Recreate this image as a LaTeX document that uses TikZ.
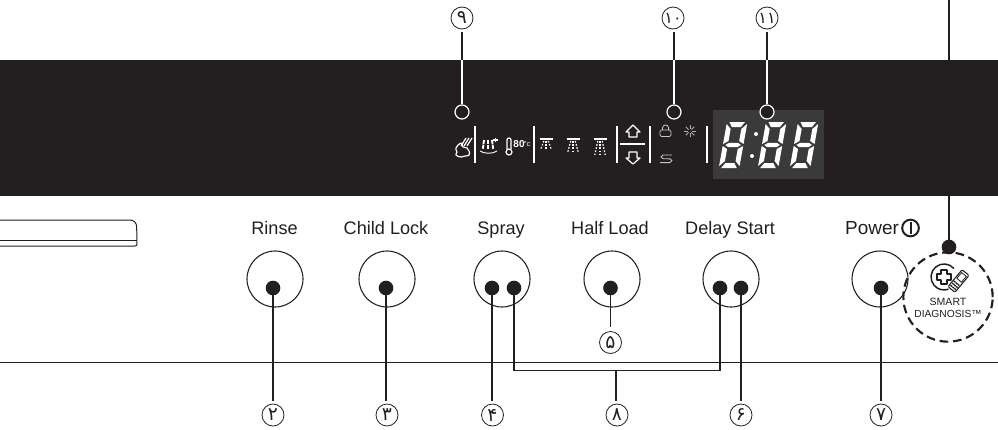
\documentclass[tikz,border=0pt]{standalone}
\usetikzlibrary{calc}
\usepackage{fontspec}
\setmainfont{Liberation Sans}
\newfontfamily\numfont[Script=Arabic]{DejaVu Sans}
\definecolor{ink}{HTML}{231F20}
\definecolor{lcd}{HTML}{3A3A3A}
\tikzset{
 btn/.style={circle,draw=ink,line width=0.8pt,minimum size=42pt,inner sep=0pt},
 btndot/.style={circle,fill=ink,minimum size=11pt,inner sep=0pt},
 opendot/.style={circle,draw=white,line width=0.9pt,fill=ink,minimum size=10.5pt,inner sep=0pt},
 callout/.style={circle,draw=ink,line width=0.6pt,minimum size=16.5pt,inner sep=0pt,font=\numfont\fontsize{14}{14}\selectfont,text=ink},
 calloutb/.style={callout,font=\numfont\fontsize{12}{12}\selectfont},
 lbl/.style={font=\fontsize{13.6}{15}\selectfont,text=ink,inner sep=0pt,anchor=base},
 wire/.style={draw=ink,line width=1.1pt},
 wwire/.style={draw=white,line width=1.1pt},
 sep/.style={draw=white,line width=0.8pt},
 seg/.style={fill=white,draw=none},
 ico/.style={draw=white,line width=0.7pt,line join=round},
}
\newcommand{\digitat}[2]{%
 \begin{scope}[shift={(#1,#2)},xslant=0.18,xscale=0.82]
  \fill[seg] (3,0)--(22,0)--(18,5)--(7,5)--cycle;
  \fill[seg] (0,2)--(6,7)--(6,19)--(0,22)--cycle;
  \fill[seg] (25,2)--(19,7)--(19,19)--(25,22)--cycle;
  \fill[seg] (3,23)--(7,20.8)--(18,20.8)--(22,23)--(18,25.2)--(7,25.2)--cycle;
  \fill[seg] (0,24)--(6,27)--(6,39)--(0,44)--cycle;
  \fill[seg] (25,24)--(19,27)--(19,39)--(25,44)--cycle;
  \fill[seg] (3,46)--(22,46)--(18,41)--(7,41)--cycle;
 \end{scope}}
\newcommand{\sprayat}[3]{%
 \draw[white,line width=1.3pt] (#1-#2,139)--(#1+#2,139);
 \foreach \k in {-1,0,1}{
  \draw[white,line width=0.9pt,dash pattern=on 1.2pt off 1.2pt] (#1+\k*#2*0.35,141)--(#1+\k*#2*0.8,141+#3);}
}
\begin{document}
\begin{tikzpicture}[x=0.75pt,y=-0.75pt]
\useasboundingbox (0,0) rectangle (998,429);
\clip (0,0) rectangle (998,429);
\fill[white] (0,0) rectangle (998,429);
% panel
\fill[ink] (0,60) rectangle (998,196);
\fill[lcd] (713,110) rectangle (824,179);
% display digits
\digitat{727}{122}
\digitat{766}{122}
\digitat{798}{122}
\fill[white] (756,134) circle (2);
\fill[white] (752,156) circle (2);
% separators
\foreach \sx in {475,534,617,650,707}{\draw[sep] (\sx,126)--(\sx,163);}
\draw[sep] (620,144)--(645,144);
% steam icon
\draw[ico,line width=0.9pt] plot[smooth cycle,tension=0.9] coordinates {(461,143)(456,148)(457,152)(456,155)(461,157)(465,156)(469,155)(469,151)(467,148)(463,147)};
\foreach \o in {0,3,6}{\draw[white,line width=0.9pt] (461+\o,146)--(466+\o,138);}
% dish icon
\foreach \o in {-4,0,4}{\draw[white,line width=1.4pt,dash pattern=on 3pt off 0.6pt] (488+\o,140)--(488+\o*1.3,149);}
\draw[white,line width=0.7pt] (480,151) .. controls (484,154) and (493,154) .. (497,151);
\draw[white,line width=0.8pt] (493,140)--(498,140) (495.5,138)--(495.5,142);
% thermometer icon
\draw[ico,line width=0.9pt] (507,149)--(507,140) arc[start angle=180,end angle=0,radius=1.5pt]--(511,149);
\draw[ico,line width=0.9pt,fill=ink] (509,152) circle (3);
\node[inner sep=0pt,text=white,font=\bfseries\fontsize{7.5}{7.5}\selectfont] (t80) at (519,144) {80};
\node[inner sep=0pt,text=white,font=\fontsize{5.5}{5.5}\selectfont] (tc) at (527,144) {°c};
% spray icons
\sprayat{546}{6.5}{8}
\sprayat{573}{6.5}{11}
\sprayat{600}{6.5}{14}
% arrows
\draw[ico,line width=0.9pt] (633,125)--(640,132)--(637,132)--(637,137)--(629,137)--(629,132)--(626,132)--cycle;
\draw[ico,line width=0.9pt] (633,164)--(640,158)--(637,158)--(637,152)--(629,152)--(629,158)--(626,158)--cycle;
% lock, sun, loop
\draw[draw=white!75!ink,line width=0.6pt,rounded corners=1pt] (660,130) rectangle (671,136.5);
\draw[draw=white!75!ink,line width=0.6pt] (662.5,130)--(662.5,128) arc[start angle=180,end angle=0,radius=2.3pt]--(668.6,130);
\foreach \a in {0,45,...,315}{\draw[white!65!ink,line width=0.6pt] ($(690,131)+(\a:2)$)--($(690,131)+(\a:6)$);}
\draw[draw=white!75!ink,line width=0.7pt] (672,155)--(663,155) arc[start angle=90,end angle=270,radius=1.4pt]--(670,158.8) arc[start angle=90,end angle=-90,radius=1.4pt]--(660,162.6);
% left tray
\draw[ink,line width=0.75pt] (-5,220)--(130,220) arc[start angle=90,end angle=0,radius=5pt]--(137,244) arc[start angle=0,end angle=-90,radius=1.5pt]--(-5,246);
\draw[ink,line width=0.75pt] (-5,240)--(137,240);
% horizontal base line
\draw[ink,line width=0.75pt] (0,362)--(998,362);
% labels
\node[lbl] (lRinse) at (274.5,234) {Rinse};
\node[lbl] (lChild) at (386,234) {Child Lock};
\node[lbl] (lSpray) at (501,234) {Spray};
\node[lbl] (lHalf) at (610,234) {Half Load};
\node[lbl] (lDelay) at (730,234) {Delay Start};
\node[lbl,font=\fontsize{14.2}{15}\selectfont] (lPower) at (872,234) {Power};
\node[circle,draw=ink,line width=1.5pt,minimum size=12.5pt,inner sep=0pt] (pwr) at (910.5,228) {};
\draw[ink,line width=1.5pt] (pwr.center)+(0,-6) -- +(0,6);
% buttons
\node[btn] (bRinse) at (275,279) {};
\node[btn] (bChild) at (387,279) {};
\node[btn] (bSpray) at (502,279) {};
\node[btn] (bHalf) at (612,279) {};
\node[btn] (bDelay) at (731,279) {};
\node[btn] (bPower) at (880,279) {};
% smart diagnosis
\node[circle,draw=ink,line width=1.6pt,dash pattern=on 6.5pt off 3.6pt,minimum size=67pt,inner sep=0pt] (smart) at (948,297) {};
\draw[ink,line width=1.1pt] (954,268.6) arc[start angle=40,end angle=290,radius=9.75pt];
\draw[ink,line width=1.3pt,line join=round] (941,270)--(947,270)--(947,274)--(951,274)--(951,280)--(947,280)--(947,284)--(941,284)--(941,280)--(937,280)--(937,274)--(941,274)--cycle;
\begin{scope}[shift={(958.5,281)},rotate=50]
 \draw[ink,line width=0.8pt,rounded corners=1pt,fill=white] (-11,-4.5) rectangle (11,4.5);
 \draw[ink,line width=0.6pt] (1,-3)rectangle(8.5,3);
 \draw[ink,line width=1.6pt,dash pattern=on 1pt off 1pt] (-9,0)--(-1,0);
 \draw[ink,line width=1.6pt,dash pattern=on 1pt off 1pt] (-9,-2.5)--(-1,-2.5);
 \draw[ink,line width=1.6pt,dash pattern=on 1pt off 1pt] (-9,2.5)--(-1,2.5);
\end{scope}
\node[inner sep=0pt,text=ink,font=\fontsize{7.9}{8}\selectfont] (smart1) at (948,302) {SMART};
\node[inner sep=0pt,text=ink,font=\fontsize{7.7}{8}\selectfont] (smart2) at (948,314) {DIAGNOSIS™};
% dots
\node[btndot] (dRinse) at (273,288) {};
\node[btndot] (dChild) at (386,288) {};
\node[btndot] (dSprayL) at (492,288) {};
\node[btndot] (dSprayR) at (514,288) {};
\node[btndot] (dHalf) at (610.5,288) {};
\node[btndot] (dDelayL) at (720,288) {};
\node[btndot] (dDelayR) at (741,288) {};
\node[btndot] (dPower) at (881,288) {};
\node[btndot] (dSmart) at (949,247) {};
% callouts
\node[callout] (n2) at (273,415) {۲};
\node[callout] (n3) at (387,415) {۳};
\node[callout] (n4) at (492.5,415) {۴};
\node[callout] (n5) at (610.5,342.5) {۵};
\node[callout] (n8) at (617,415) {۸};
\node[callout] (n6) at (741,415) {۶};
\node[callout] (n7) at (881,415) {۷};
\node[callout] (n9) at (462,18) {۹};
\node[calloutb] (n10) at (673,18) {۱۰};
\node[calloutb] (n11) at (767,18) {۱۱};
% open markers
\coordinate (topSmart) at (949,0);
\coordinate (pA) at (462,60);
\coordinate (pB) at (674,60);
\coordinate (pC) at (767,60);
\coordinate (brL) at (514,370.5);
\coordinate (brR) at (720,370.5);
\coordinate (brS) at (616,370.5);
% connectors
\draw[wire,shorten >=2pt] (dRinse.center)--(n2.north);
\draw[wire,shorten >=2pt] (dChild.center)--(n3.north -| dChild);
\draw[wire,shorten >=2pt] (dSprayL.center)--(n4.north -| dSprayL);
\draw[wire,shorten >=3pt] (dHalf.center)--(n5.north);
\draw[wire,shorten >=2pt] (dDelayR.center)--(n6.north);
\draw[wire,shorten >=2pt] (dPower.center)--(n7.north);
\draw[wire] (dSprayR.center)--(brL)--(brR)--(dDelayL.center);
\draw[wire,shorten >=2pt] (brS)--(n8.north -| brS);
\draw[wire] (topSmart)--(dSmart.center);
\draw[wire,shorten <=2pt] (n9.south)--(pA);
\draw[wire,shorten <=2pt] (n10.south -| pB)--(pB);
\draw[wire,shorten <=2pt] (n11.south)--(pC);
\node[opendot] (o9) at (462,112) {};
\node[opendot] (o10) at (674,112) {};
\node[opendot] (o11) at (767,112) {};
\draw[wwire] (pA)--(o9.north);
\draw[wwire] (pB)--(o10.north);
\draw[wwire] (pC)--(o11.north);
\end{tikzpicture}
\end{document}
